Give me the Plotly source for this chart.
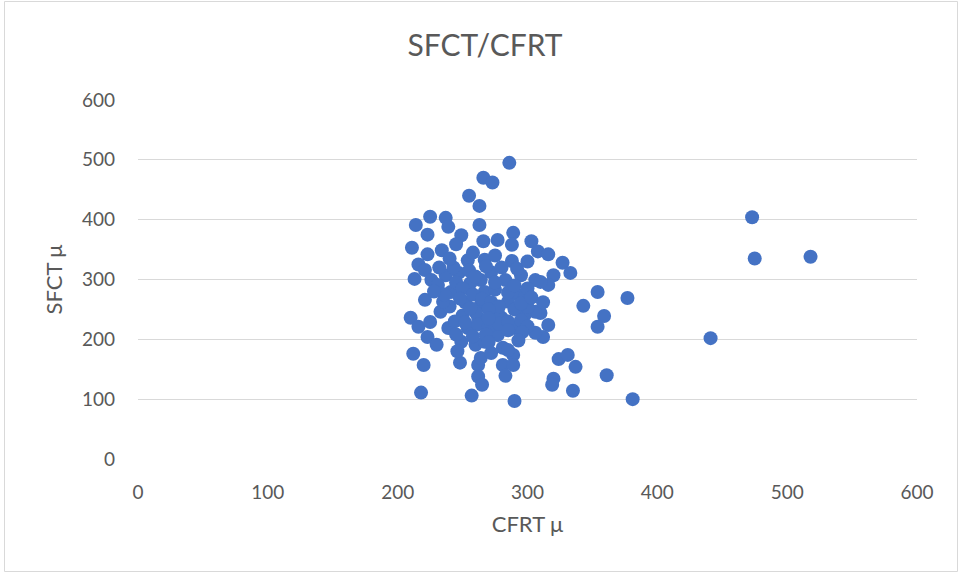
import plotly.graph_objects as go

# CFRT (x) and SFCT (y) thickness values, in microns
cfrt = [
    286, 266, 273, 255, 263, 263, 214, 225, 237, 239, 223, 211, 223, 234, 249, 245,
    266, 277, 289, 288, 303, 308, 316, 288, 267, 254, 216, 221, 213, 226, 237, 247,
    272, 295, 320, 327, 333, 283, 306, 264, 316, 310, 354, 377, 343, 359, 354, 316,
    312, 324, 331, 337, 361, 320, 319, 335, 381, 441, 473, 475, 518, 310,
    221, 210, 216, 225, 223, 230, 212, 220, 218, 248, 257, 262, 262, 265, 264, 272,
    281, 289, 281, 283, 289, 290, 249, 260, 254, 239, 262, 233, 241, 252, 231, 256,
    267, 293, 306, 306, 290, 277, 267, 285, 298, 280, 264, 285, 277, 298, 300, 285, 275,
    245, 250, 258, 265, 272, 278, 290, 295, 270, 260, 250, 244, 252, 262, 270, 278,
    285, 295, 300, 296, 268, 258, 245, 240, 248, 235, 243, 255, 260, 275, 290, 300,
    280, 292, 268, 240, 232, 258, 275, 300, 270, 256, 285, 246, 270, 293, 236, 228,
    303, 312,
]
sfct = [
    495, 470, 462, 440, 423, 391, 391, 405, 403, 388, 375, 353, 342, 349, 374, 359,
    364, 366, 378, 358, 364, 347, 342, 331, 333, 332, 325, 316, 301, 299, 307, 311,
    312, 307, 307, 328, 311, 299, 299, 299, 291, 296, 279, 269, 256, 239, 221, 224,
    204, 167, 174, 154, 140, 134, 124, 114, 100, 202, 404, 335, 338, 244,
    266, 236, 221, 229, 204, 191, 176, 157, 111, 161, 106, 157, 138, 124, 169, 177,
    186, 174, 157, 139, 157, 97, 196, 191, 219, 219, 236, 246, 279, 262, 291, 294,
    279, 274, 246, 211, 219, 207, 196, 182, 241, 236, 258, 263, 246, 271, 254, 278, 283,
    295, 285, 275, 268, 262, 255, 250, 260, 250, 245, 240, 230, 228, 225, 220, 226,
    230, 232, 222, 212, 208, 205, 208, 255, 268, 263, 320, 315, 305, 295, 290, 285,
    320, 318, 322, 335, 320, 345, 340, 330, 235, 252, 215, 180, 195, 198, 275, 280,
    270, 262,
]

x_ticks = [0, 100, 200, 300, 400, 500, 600]
y_ticks = [0, 100, 200, 300, 400, 500, 600]

text_color = "#595959"
font_family = "Lato, 'Open Sans', sans-serif"

fig = go.Figure(
    go.Scatter(
        x=cfrt,
        y=sfct,
        mode="markers",
        marker=dict(size=14, color="#4472C4", line=dict(width=0)),
        hoverinfo="x+y",
    )
)

fig.update_layout(
    width=962,
    height=572,
    paper_bgcolor="white",
    plot_bgcolor="white",
    margin=dict(l=138, r=45, t=100, b=113),
    showlegend=False,
    font=dict(family=font_family, color=text_color, size=19),
    title=dict(
        text="SFCT/CFRT",
        x=485 / 962,
        xref="container",
        xanchor="center",
        y=1 - 45.5 / 572,
        yref="container",
        yanchor="middle",
        font=dict(size=30, color=text_color, family=font_family),
    ),
)

fig.update_xaxes(
    range=[0, 600],
    tickvals=x_ticks,
    showgrid=False,
    zeroline=False,
    showline=False,
    ticks="",
    ticklabelstandoff=20,
    tickfont=dict(size=19, color=text_color),
    title=dict(text="CFRT μ", font=dict(size=22, color=text_color), standoff=14),
)
fig.update_yaxes(
    range=[0, 600],
    tickvals=y_ticks,
    showgrid=True,
    gridcolor="#D9D9D9",
    gridwidth=1,
    zeroline=False,
    showline=False,
    ticks="",
    ticklabelstandoff=22,
    tickfont=dict(size=19, color=text_color),
    title=dict(text="SFCT μ", font=dict(size=22, color=text_color), standoff=13),
)

# outer chart border
fig.add_shape(
    type="rect",
    xref="paper",
    yref="paper",
    x0=(4.5 - 138) / 779,
    x1=(957.5 - 138) / 779,
    y0=-(571.5 - 459) / 359,
    y1=1 + (100 - 1.5) / 359,
    line=dict(color="#D9D9D9", width=1),
    fillcolor="rgba(0,0,0,0)",
    layer="below",
)

fig.write_html("out.html")
